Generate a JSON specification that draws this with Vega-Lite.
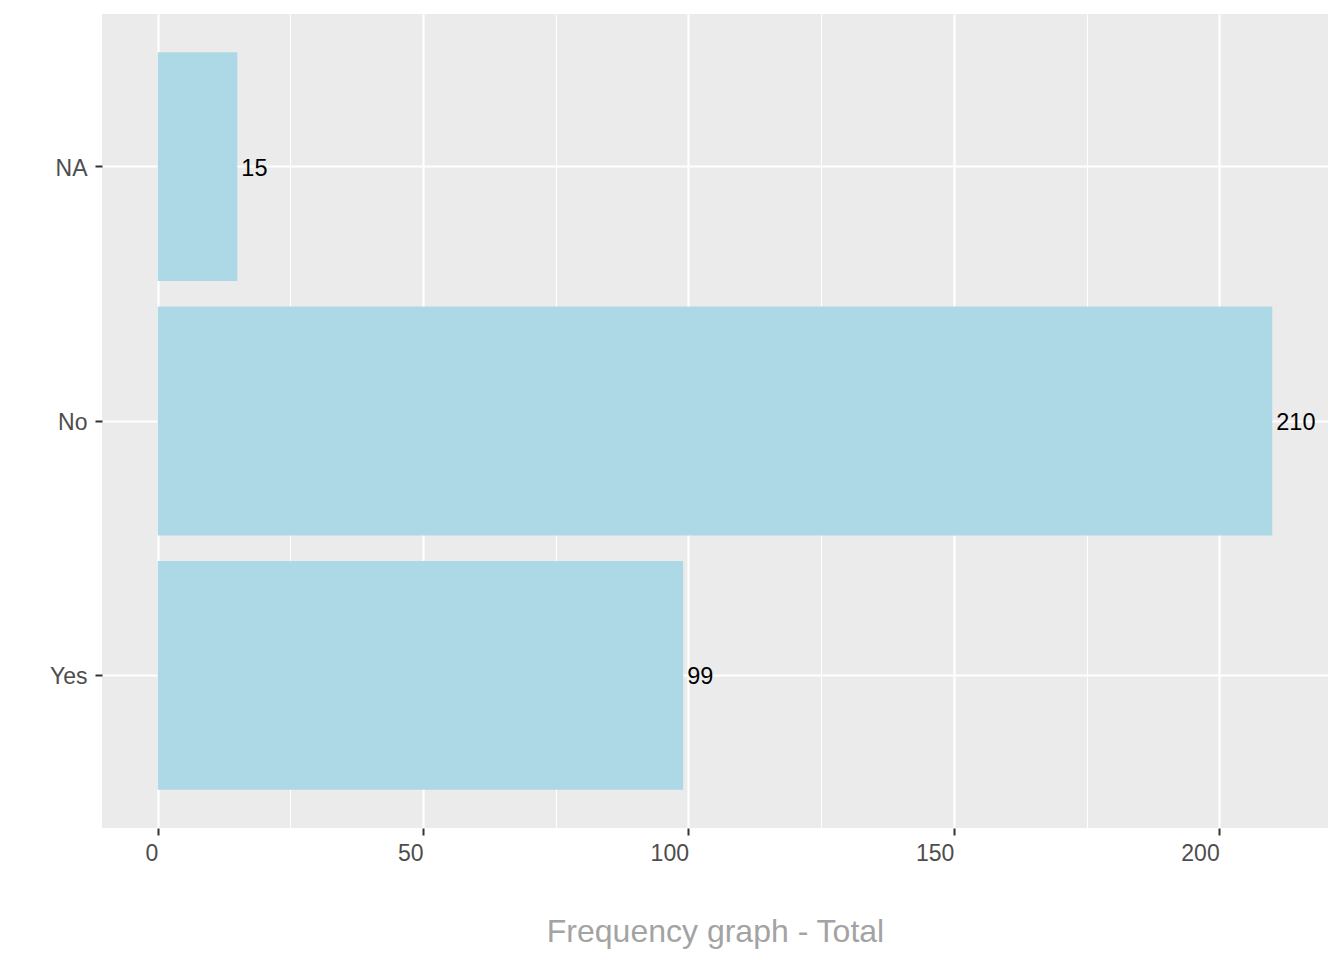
{
  "$schema": "https://vega.github.io/schema/vega-lite/v6.json",
  "width": 1226,
  "height": 814,
  "autosize": {"type": "none"},
  "padding": {"left": 102, "top": 14, "right": 16, "bottom": 132},
  "background": "white",
  "config": {
    "view": {"stroke": null, "fill": "#EBEBEB"},
    "font": "Liberation Sans"
  },
  "data": {
    "values": [
      {"answer": "NA", "count": 15},
      {"answer": "No", "count": 210},
      {"answer": "Yes", "count": 99}
    ]
  },
  "encoding": {
    "y": {
      "field": "answer",
      "type": "nominal",
      "sort": ["NA", "No", "Yes"],
      "scale": {"paddingInner": 0.1, "paddingOuter": 0.15},
      "axis": {
        "title": null,
        "bandPosition": 0.5,
        "grid": true,
        "gridColor": "white",
        "gridWidth": 2.2,
        "domain": false,
        "tickColor": "#333333",
        "tickWidth": 2,
        "tickSize": 7,
        "labelPadding": 8,
        "labelOffset": 2,
        "labelFont": "Liberation Sans",
        "labelFontSize": 23,
        "labelColor": "#4D4D4D"
      }
    }
  },
  "layer": [
    {
      "mark": {"type": "bar", "color": "#ADD8E6"},
      "encoding": {
        "x": {
          "field": "count",
          "type": "quantitative",
          "scale": {"domain": [-10.5, 220.5], "nice": false, "zero": false},
          "axis": {
            "title": "Frequency graph - Total",
            "titleFont": "Liberation Sans",
            "titleFontSize": 32,
            "titleFontWeight": "normal",
            "titleColor": "#A3A3A3",
            "titlePadding": 51,
            "values": [0, 50, 100, 150, 200],
            "grid": true,
            "gridColor": "white",
            "gridWidth": 2.2,
            "domain": false,
            "tickColor": "#333333",
            "tickWidth": 2,
            "tickSize": 7,
            "labelPadding": 7,
            "labelAlign": "right",
            "labelDx": 2,
            "labelFont": "Liberation Sans",
            "labelFontSize": 23,
            "labelColor": "#4D4D4D"
          }
        }
      }
    },
    {
      "mark": {"type": "text", "align": "left", "baseline": "middle", "dx": 4, "dy": 2, "font": "Liberation Sans", "fontSize": 23.5, "color": "black"},
      "encoding": {
        "x": {
          "field": "count",
          "type": "quantitative",
          "axis": {
            "orient": "top",
            "values": [25, 75, 125, 175],
            "grid": true,
            "gridColor": "white",
            "gridWidth": 1.1,
            "labels": false,
            "ticks": false,
            "domain": false,
            "title": null
          }
        },
        "text": {"field": "count", "type": "quantitative"}
      }
    }
  ],
  "resolve": {"axis": {"x": "independent"}}
}
